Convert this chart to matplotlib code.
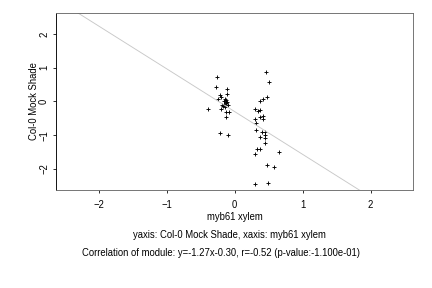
import numpy as np
import matplotlib
matplotlib.use("Agg")
import matplotlib.pyplot as plt

plt.rcParams['font.family'] = ['Liberation Sans', 'DejaVu Sans']

# Points (x: myb61 xylem, y: Col-0 Mock Shade)
x_vals = [-0.26, -0.28, -0.11, -0.11, -0.22, -0.20, -0.24, -0.14, -0.12, -0.10,
          -0.17, -0.14, -0.20, -0.39, -0.13, -0.09, -0.13, -0.22, -0.10,
          -0.15, -0.13, -0.12, -0.16, -0.11, -0.18,
          0.46, 0.51, 0.47, 0.42, 0.37, 0.30, 0.34, 0.37, 0.42, 0.37, 0.42,
          0.30, 0.32, 0.32, 0.40, 0.45, 0.37, 0.45, 0.45, 0.45, 0.33, 0.38,
          0.30, 0.65, 0.48, 0.58, 0.30, 0.49]
y_vals = [0.72, 0.42, 0.37, 0.22, 0.19, 0.12, 0.07, 0.07, -0.01, -0.09,
          -0.14, -0.16, -0.23, -0.23, -0.32, -0.32, -0.47, -0.94, -1.01,
          0.02, -0.04, 0.04, -0.06, -0.02, -0.10,
          0.87, 0.57, 0.13, 0.08, 0.01, -0.21, -0.28, -0.25, -0.44, -0.46, -0.52,
          -0.53, -0.64, -0.85, -0.91, -0.91, -1.06, -1.00, -1.08, -1.24, -1.42, -1.42,
          -1.56, -1.50, -1.88, -1.95, -2.44, -2.41]

slope = -1.27
intercept = -0.30

W, H = 432, 288
fs = 9.5

fig = plt.figure(figsize=(6, 4), dpi=72)
ax = fig.add_axes([56 / W, 1 - 190 / H, (413.3 - 56) / W, (190 - 13.3) / H])

# regression line
xx = np.array([-3.0, 3.0])
ax.plot(xx, slope * xx + intercept, color="#c8c8c8", lw=0.9)

ax.scatter(x_vals, y_vals, marker="+", s=20, color="black", linewidths=0.9)

ax.set_xlim(-2.63, 2.63)
ax.set_ylim(-2.63, 2.62)
ax.set_xticks([-2, -1, 0, 1, 2])
ax.set_yticks([-2, -1, 0, 1, 2])
ax.tick_params(axis="x", direction="out", length=3, width=0.8, labelsize=fs, pad=7.5)
ax.tick_params(axis="y", direction="out", length=3, width=0.8, labelsize=fs, pad=4)
for lbl in ax.get_yticklabels():
    lbl.set_rotation(90)
    lbl.set_va("center")

for side in ["top", "right", "bottom"]:
    ax.spines[side].set_color("#6a6a6a")
for side in ax.spines:
    ax.spines[side].set_linewidth(0.9)
ax.spines["left"].set_color("black")

fig.text(235 / W, 1 - 216.5 / H, "myb61 xylem", ha="center", va="center", fontsize=fs)
fig.text(34 / W, 1 - 101.5 / H, "Col-0 Mock Shade", ha="center", va="center",
         rotation=90, fontsize=fs)

fig.text(229 / W, 1 - 235 / H, "yaxis: Col-0 Mock Shade, xaxis: myb61 xylem",
         ha="center", va="center", fontsize=fs)
fig.text(221 / W, 1 - 253.3 / H,
         "Correlation of module: y=-1.27x-0.30, r=-0.52 (p-value:-1.100e-01)",
         ha="center", va="center", fontsize=fs)

fig.savefig("out.png", dpi=72)
